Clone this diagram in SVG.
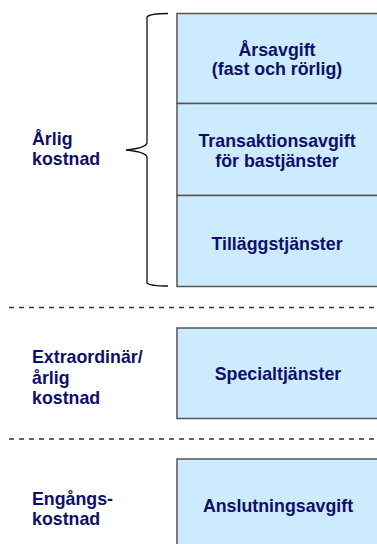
<svg xmlns="http://www.w3.org/2000/svg" width="377" height="544" viewBox="0 0 377 544">
<style>
.box{fill:#CCEBFF;stroke:#555;stroke-width:1.5}
.t{font-family:"Liberation Sans",Arial,sans-serif;font-weight:bold;font-size:17.8px;fill:#0F0F69}
.c{text-anchor:middle}
.dash{stroke:#333;stroke-width:1.3;stroke-dasharray:5 5;fill:none}
.brace{stroke:#111;stroke-width:1.3;fill:none}
</style>
<rect width="377" height="544" fill="#fff"/>
<g id="connectors">
<path class="brace" d="M168,13.5 Q150,13.5 147,17 L147,143 Q146,148 126,150 Q146,152 147,157 L147,283 Q150,286 168,286"/>
<line class="dash" x1="9" y1="307.5" x2="377" y2="307.5"/>
<line class="dash" x1="9" y1="439" x2="377" y2="439"/>
</g>
<g id="label-arlig">
<text class="t" x="32" y="145">Årlig</text>
<text class="t" x="32" y="165">kostnad</text>
</g>
<g id="label-extra">
<text class="t" x="32" y="363">Extraordinär/</text>
<text class="t" x="32" y="384">årlig</text>
<text class="t" x="32" y="404">kostnad</text>
</g>
<g id="label-engangs">
<text class="t" x="32" y="505">Engångs-</text>
<text class="t" x="32" y="525">kostnad</text>
</g>
<g id="node-arsavgift">
<rect class="box" x="177" y="13.5" width="210" height="90"/>
<text class="t c" x="277" y="56">Årsavgift</text>
<text class="t c" x="277" y="75">(fast och rörlig)</text>
</g>
<g id="node-transaktionsavgift">
<rect class="box" x="177" y="103.5" width="210" height="92"/>
<text class="t c" x="277" y="147">Transaktionsavgift</text>
<text class="t c" x="277" y="167">för bastjänster</text>
</g>
<g id="node-tillaggstjanster">
<rect class="box" x="177" y="195.5" width="210" height="91"/>
<text class="t c" x="277" y="250">Tilläggstjänster</text>
</g>
<g id="node-specialtjanster">
<rect class="box" x="177" y="328" width="210" height="90.5"/>
<text class="t c" x="278" y="380">Specialtjänster</text>
</g>
<g id="node-anslutningsavgift">
<rect class="box" x="177" y="459" width="210" height="100"/>
<text class="t c" x="278" y="512">Anslutningsavgift</text>
</g>
</svg>
